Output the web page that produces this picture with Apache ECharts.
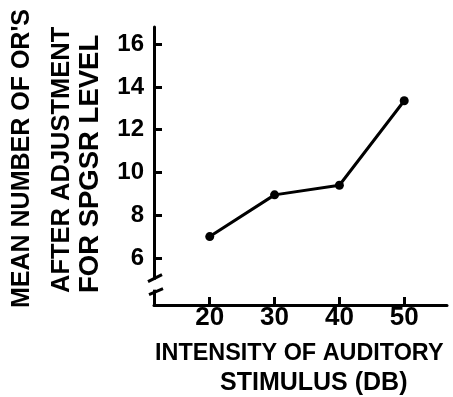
<!DOCTYPE html>
<html>
<head>
<meta charset="utf-8">
<script src="https://cdn.jsdelivr.net/npm/echarts@6/dist/echarts.min.js"></script>
<style>
html,body{margin:0;padding:0;background:#fff;}
#chart{width:453px;height:397px;}
</style>
</head>
<body>
<div id="chart"></div>
<script>
// Data
const intensities = [20, 30, 40, 50];
const meanORs = [7.0, 8.95, 9.4, 13.35];
const xTickValues = [20, 30, 40, 50];
const yTickValues = [6, 8, 10, 12, 14, 16];
const yTitleLines = ["MEAN NUMBER OF OR'S", "AFTER ADJUSTMENT", "FOR SPGSR LEVEL"];
const xTitleLines = ["INTENSITY OF AUDITORY", "STIMULUS (DB)"];

const FONT = '"Liberation Sans", Arial, sans-serif';
const chart = echarts.init(document.getElementById('chart'), null, {renderer: 'canvas'});

const option = {
  backgroundColor: '#fff',
  animation: false,
  grid: {left: 154, right: 6, top: 27, bottom: 92, containLabel: false},
  xAxis: {
    type: 'value', min: 11.4, max: 56.6,
    axisLine: {show: true, lineStyle: {color: '#000', width: 3}},
    axisTick: {show: true, inside: true, length: 8, lineStyle: {color: '#000', width: 3}, customValues: xTickValues},
    axisLabel: {show: true, margin: 0, color: '#000', fontSize: 26, fontWeight: 'bold', fontFamily: FONT, customValues: xTickValues},
    splitLine: {show: false}
  },
  yAxis: {
    type: 'value', min: 3.8, max: 16.8,
    axisLine: {show: true, lineStyle: {color: '#000', width: 3}},
    axisTick: {show: true, inside: true, length: 8, lineStyle: {color: '#000', width: 3}, customValues: yTickValues},
    axisLabel: {show: true, margin: 10, color: '#000', fontSize: 24, fontWeight: 'bold', fontFamily: FONT, customValues: yTickValues},
    splitLine: {show: false}
  },
  series: [{
    type: 'line',
    data: intensities.map((x, i) => [x, meanORs[i]]),
    symbol: 'circle', symbolSize: 9,
    lineStyle: {color: '#000', width: 3},
    itemStyle: {color: '#000'}
  }]
};
chart.setOption(option);

// axis break decoration, placed through the axis scale
const breakCenter = 4.75;
const c = chart.convertToPixel({gridIndex: 0}, [11.4, breakCenter]);
const ax = c[0], yc = c[1];

const graphics = [
  {type: 'rect', shape: {x: ax - 4, y: yc - 5, width: 8, height: 10}, style: {fill: '#fff'}, z: 100},
  {type: 'line', shape: {x1: ax - 6, y1: yc - 3, x2: ax + 8, y2: yc - 10}, style: {stroke: '#000', lineWidth: 3}, z: 101},
  {type: 'line', shape: {x1: ax - 5, y1: yc + 10, x2: ax + 9, y2: yc + 4}, style: {stroke: '#000', lineWidth: 3}, z: 101},
  // y titles
  {type: 'text', x: 22.5, y: 308, rotation: Math.PI / 2, style: {text: yTitleLines[0], fill: '#000', font: 'bold 25px ' + FONT, textAlign: 'left', textVerticalAlign: 'middle'}, z: 101},
  {type: 'text', x: 62, y: 293, rotation: Math.PI / 2, style: {text: yTitleLines[1], fill: '#000', font: 'bold 25.5px ' + FONT, textAlign: 'left', textVerticalAlign: 'middle'}, z: 101},
  {type: 'text', x: 90, y: 293, rotation: Math.PI / 2, style: {text: yTitleLines[2], fill: '#000', font: 'bold 27.5px ' + FONT, textAlign: 'left', textVerticalAlign: 'middle'}, z: 101},
  // x titles
  {type: 'text', x: 155, y: 353.5, style: {text: xTitleLines[0], fill: '#000', font: 'bold 23.4px ' + FONT, textAlign: 'left', textVerticalAlign: 'middle'}, z: 101},
  {type: 'text', x: 220, y: 383.5, style: {text: xTitleLines[1], fill: '#000', font: 'bold 25px ' + FONT, textAlign: 'left', textVerticalAlign: 'middle'}, z: 101}
];
chart.setOption({graphic: graphics});
</script>
</body>
</html>
